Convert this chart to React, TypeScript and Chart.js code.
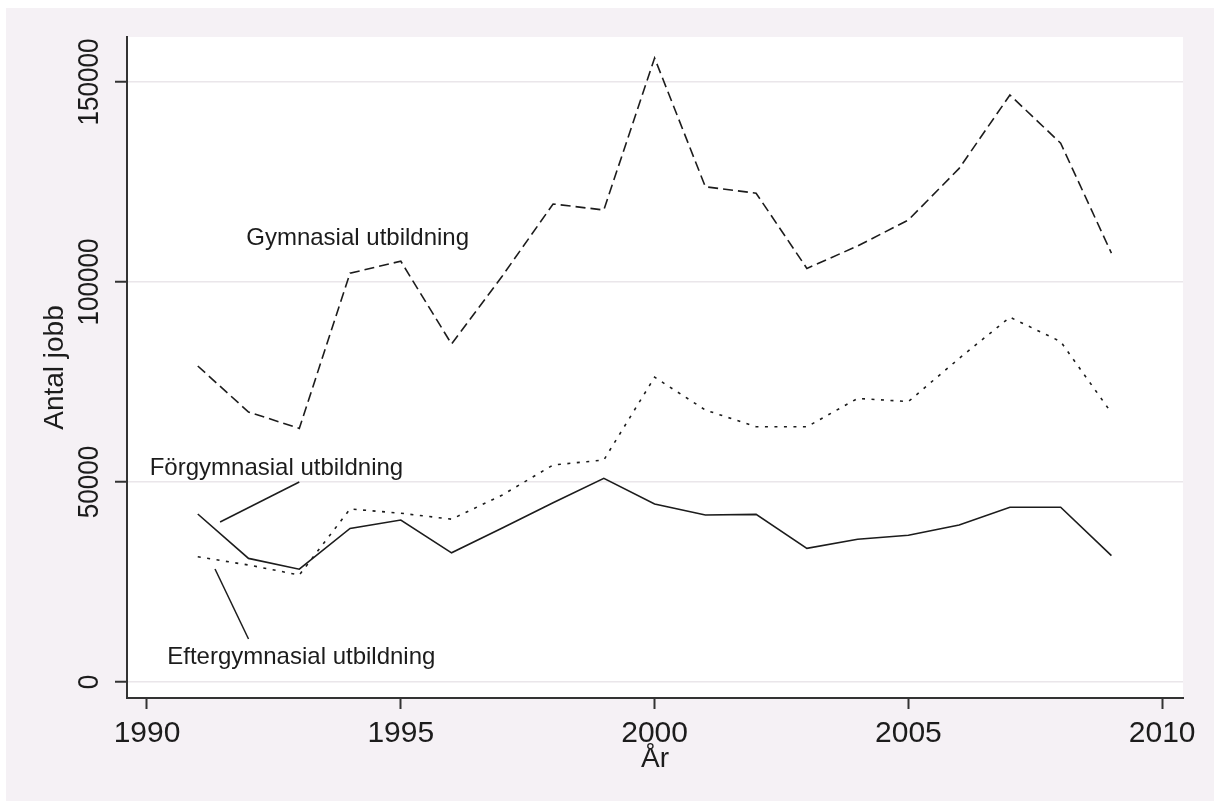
import React, { useEffect, useRef } from "react";
import { Chart, registerables } from "chart.js";

Chart.register(...registerables);

// ---- data ----
const years = [1991, 1992, 1993, 1994, 1995, 1996, 1997, 1998, 1999, 2000, 2001, 2002, 2003, 2004, 2005, 2006, 2007, 2008, 2009];
const gymnasial = [79000, 67500, 63400, 102200, 105200, 84500, 101500, 119500, 118000, 156000, 123800, 122200, 103400, 109000, 115500, 128400, 146750, 134700, 107200];
const forgymnasial = [42000, 30900, 28200, 38400, 40500, 32300, 38500, 44800, 50900, 44500, 41750, 41900, 33400, 35700, 36700, 39250, 43700, 43700, 31600];
const eftergymnasial = [31300, 29250, 26750, 43250, 42200, 40700, 46750, 54250, 55500, 76200, 68000, 63800, 63800, 70900, 70100, 80900, 91200, 85100, 67300];

const xTicks = [1990, 1995, 2000, 2005, 2010];
const yTicks = [0, 50000, 100000, 150000];
const xTitle = "År";
const yTitle = "Antal jobb";

// text labels placed in data coordinates
const labelTexts = ["Gymnasial utbildning", "Förgymnasial utbildning", "Eftergymnasial utbildning"];
const labelX = [1994.15, 1992.55, 1993.04];
const labelY = [110900, 53500, 6250];

// pointer lines in data coordinates
const pointerX1 = [1991.44, 1991.34];
const pointerY1 = [40000, 28250];
const pointerX2 = [1993.0, 1992.0];
const pointerY2 = [50000, 10750];

const FONT = "'Liberation Sans', Arial, sans-serif";
const PINK = "#F5F1F5";
const INK = "#1c1c1c";

const decorPlugin = {
  id: "decor",
  beforeDraw(chart: any) {
    const { ctx, chartArea, width, height } = chart;
    ctx.save();
    ctx.fillStyle = "#ffffff";
    ctx.fillRect(0, 0, width, height);
    ctx.fillStyle = PINK;
    ctx.fillRect(6, 8, width - 6, height - 8);
    ctx.fillStyle = "#ffffff";
    ctx.fillRect(chartArea.left, chartArea.top, chartArea.right - chartArea.left, chartArea.bottom - chartArea.top);
    ctx.restore();
  },
  afterDraw(chart: any) {
    const { ctx, chartArea } = chart;
    const xs = chart.scales.x;
    const ys = chart.scales.y;
    ctx.save();
    ctx.fillStyle = INK;

    // x tick labels
    ctx.font = `30px ${FONT}`;
    ctx.textAlign = "center";
    ctx.textBaseline = "alphabetic";
    xTicks.forEach((v) => {
      ctx.fillText(String(v), xs.getPixelForValue(v), chartArea.bottom + 44);
    });

    // y tick labels (rotated)
    yTicks.forEach((v) => {
      ctx.save();
      ctx.translate(chartArea.left - 28.7, ys.getPixelForValue(v));
      ctx.rotate(-Math.PI / 2);
      ctx.scale(0.9, 1);
      ctx.font = `29px ${FONT}`;
      ctx.textAlign = "center";
      ctx.textBaseline = "alphabetic";
      ctx.fillText(String(v), 0, 0);
      ctx.restore();
    });

    // axis titles
    ctx.font = `28px ${FONT}`;
    ctx.textAlign = "center";
    ctx.fillText(xTitle, (chartArea.left + chartArea.right) / 2, chartArea.bottom + 69);
    ctx.save();
    ctx.translate(chartArea.left - 63.7, (chartArea.top + chartArea.bottom) / 2);
    ctx.rotate(-Math.PI / 2);
    ctx.fillText(yTitle, 0, 0);
    ctx.restore();

    // annotation texts
    ctx.font = `24px ${FONT}`;
    ctx.textAlign = "center";
    ctx.textBaseline = "middle";
    labelTexts.forEach((t, i) => {
      ctx.fillText(t, xs.getPixelForValue(labelX[i]), ys.getPixelForValue(labelY[i]));
    });

    // pointer lines
    ctx.strokeStyle = INK;
    ctx.lineWidth = 1.5;
    pointerX1.forEach((_, i) => {
      ctx.beginPath();
      ctx.moveTo(xs.getPixelForValue(pointerX1[i]), ys.getPixelForValue(pointerY1[i]));
      ctx.lineTo(xs.getPixelForValue(pointerX2[i]), ys.getPixelForValue(pointerY2[i]));
      ctx.stroke();
    });
    ctx.restore();
  },
};

export default function App() {
  const canvasRef = useRef<HTMLCanvasElement | null>(null);

  useEffect(() => {
    const canvas = canvasRef.current;
    if (!canvas) return;
    const toPoints = (vals: number[]) => years.map((y, i) => ({ x: y, y: vals[i] }));
    const chart = new Chart(canvas, {
      type: "line",
      data: {
        datasets: [
          {
            label: "Gymnasial utbildning",
            data: toPoints(gymnasial),
            borderColor: INK,
            borderWidth: 1.6,
            borderDash: [10, 5],
            pointRadius: 0,
            fill: false,
            tension: 0,
          },
          {
            label: "Eftergymnasial utbildning",
            data: toPoints(eftergymnasial),
            borderColor: INK,
            borderWidth: 1.6,
            borderDash: [3, 6.5],
            pointRadius: 0,
            fill: false,
            tension: 0,
          },
          {
            label: "Förgymnasial utbildning",
            data: toPoints(forgymnasial),
            borderColor: INK,
            borderWidth: 1.6,
            pointRadius: 0,
            fill: false,
            tension: 0,
          },
        ],
      },
      options: {
        animation: false,
        responsive: false,
        maintainAspectRatio: false,
        devicePixelRatio: 1,
        layout: { padding: { left: 115, right: 31, top: 37, bottom: 92 } },
        plugins: {
          legend: { display: false },
          tooltip: { enabled: false },
          title: { display: false },
        },
        scales: {
          x: {
            type: "linear",
            min: 1989.606,
            max: 2010.41,
            afterBuildTicks: (s: any) => {
              s.ticks = xTicks.map((v) => ({ value: v }));
            },
            ticks: { display: false },
            grid: {
              display: true,
              drawOnChartArea: false,
              drawTicks: true,
              tickLength: 11,
              tickWidth: 2,
              tickColor: "#333333",
            },
            border: { display: true, color: "#333333", width: 2 },
          },
          y: {
            type: "linear",
            min: -4000,
            max: 161250,
            afterBuildTicks: (s: any) => {
              s.ticks = yTicks.map((v) => ({ value: v }));
            },
            ticks: { display: false },
            grid: {
              display: true,
              drawOnChartArea: true,
              color: "#EAE6EA",
              lineWidth: 1.5,
              drawTicks: true,
              tickLength: 12,
              tickWidth: 2,
              tickColor: "#333333",
            },
            border: { display: true, color: "#333333", width: 2 },
          },
        },
      },
      plugins: [decorPlugin],
    });
    return () => chart.destroy();
  }, []);

  return (
    <div style={{ position: "absolute", left: 0, top: 0, width: 1214, height: 801 }}>
      <canvas ref={canvasRef} width={1214} height={801} style={{ display: "block" }} />
    </div>
  );
}
